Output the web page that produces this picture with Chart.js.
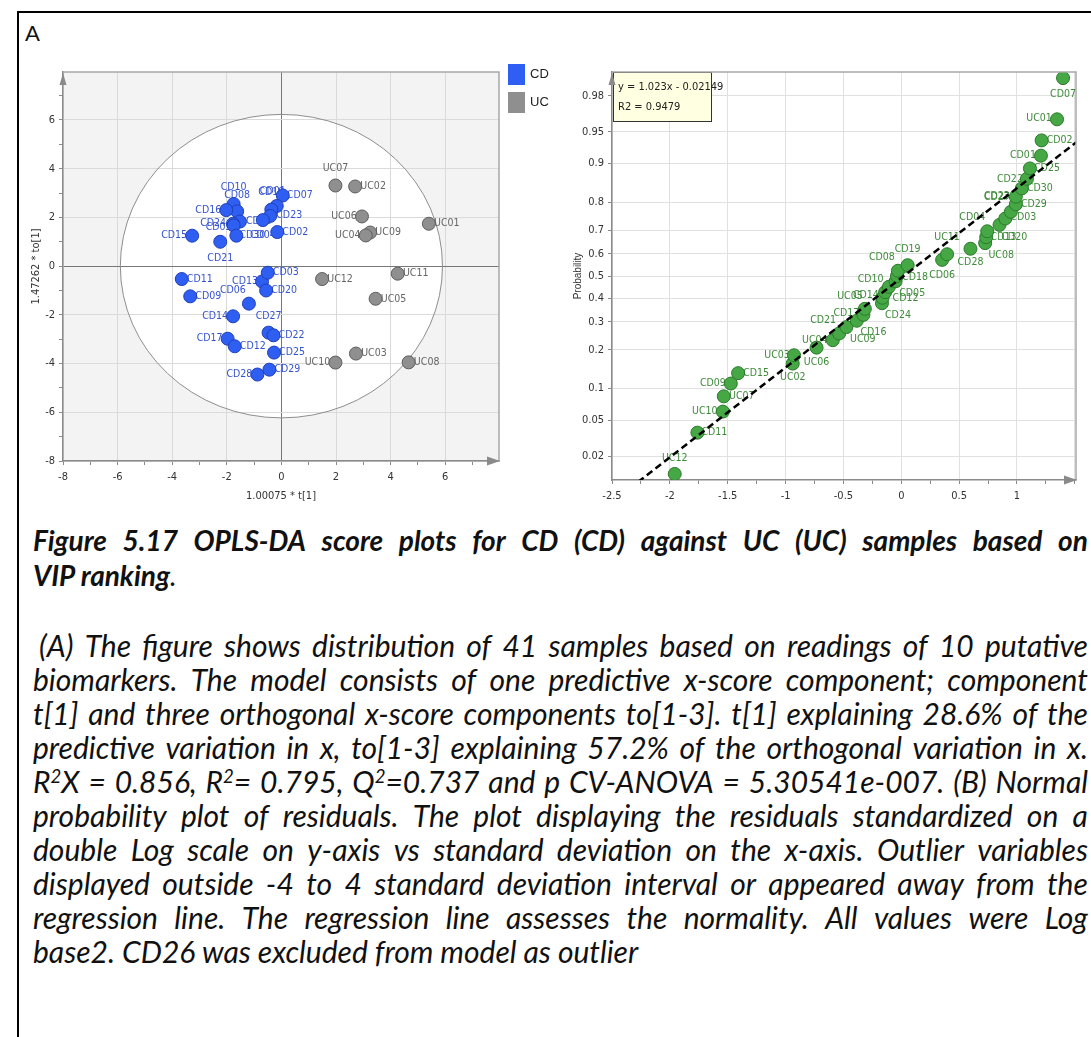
<!DOCTYPE html>
<html>
<head>
<meta charset="utf-8">
<script src="https://cdn.jsdelivr.net/npm/chart.js@4.4.1/dist/chart.umd.min.js"></script>
<style>
  html, body { margin: 0; padding: 0; background: #fff; }
  body { width: 1091px; height: 1037px; position: relative; overflow: hidden; font-family: Lato, 'Open Sans', sans-serif; color: #111; }
  #frame { position: absolute; left: 17px; top: 11px; width: 1100px; height: 1100px; border-top: 2px solid #000; border-left: 2px solid #000; }
  #panel { position: absolute; left: 25px; top: 19px; font-size: 22px; }
  .box { position: absolute; top: 60px; height: 450px; }
  #leftBox { left: 0; width: 560px; }
  #rightBox { left: 560px; width: 531px; }
  .sw { position: absolute; left: 508px; width: 17px; height: 21px; }
  .lg { position: absolute; left: 530px; font: 13px 'Liberation Sans', Arial, sans-serif; color: #222; }
  #caption { position: absolute; left: 33px; top: 523px; width: 1055px; font-size: 28px; font-weight: 700; font-style: italic; }
  #caption > div { height: 35px; line-height: 35px; white-space: nowrap; }
  #notes { position: absolute; left: 33px; top: 628px; width: 1055px; font-size: 30px; font-style: italic; }
  #notes > div { height: 34px; line-height: 34px; white-space: nowrap; }
  .j { display: flex; justify-content: space-between; }
  sup { font-size: 0.62em; line-height: 0; vertical-align: 0.55em; }
</style>
</head>
<body>
<div id="frame"></div>
<div id="panel">A</div>

<div id="leftBox" class="box"><canvas id="scoreChart" width="560" height="450"></canvas></div>
<div id="rightBox" class="box"><canvas id="probChart" width="531" height="450"></canvas></div>

<div class="sw" style="top:64px;background:#2f5ff2"></div>
<div class="lg" style="top:66px">CD</div>
<div class="sw" style="top:92px;background:#8f8f8f"></div>
<div class="lg" style="top:94px">UC</div>

<div id="caption">
  <div class="j">Figure 5.17 OPLS-DA score plots for CD (CD) against UC (UC) samples based on</div>
  <div>VIP ranking<span style="font-weight:400">.</span></div>
</div>

<div id="notes">
  <div class="j" style="padding-left:6px">(A) The figure shows distribution of 41 samples based on readings of 10 putative</div>
  <div class="j">biomarkers. The model consists of one predictive x-score component; component</div>
  <div class="j">t[1] and three orthogonal x-score components to[1-3]. t[1] explaining 28.6% of the</div>
  <div class="j">predictive variation in x, to[1-3] explaining 57.2% of the orthogonal variation in x.</div>
  <div class="j">R<sup>2</sup>X = 0.856, R<sup>2</sup>= 0.795, Q<sup>2</sup>=0.737 and p CV-ANOVA = 5.30541e-007. (B) Normal</div>
  <div class="j">probability plot of residuals. The plot displaying the residuals standardized on a</div>
  <div class="j">double Log scale on y-axis vs standard deviation on the x-axis. Outlier variables</div>
  <div class="j">displayed outside -4 to 4 standard deviation interval or appeared away from the</div>
  <div class="j">regression line. The regression line assesses the normality. All values were Log</div>
  <div>base2. CD26 was excluded from model as outlier</div>
</div>

<script>
// ---- score plot (A) data ----
const cdNames = ['CD10','CD08','CD16','CD18','CD24','CD05','CD30','CD15','CD21','CD07','CD01','CD19','CD23','CD04','CD02',
                 'CD11','CD09','CD06','CD13','CD03','CD20','CD14','CD27','CD22','CD17','CD12','CD25','CD29','CD28'];
const cdX = [-1.75,-1.62,-2.02,-1.52,-1.77,-1.75,-1.65,-3.27,-2.24,0.05,-0.17,-0.37,-0.41,-0.68,-0.15,
             -3.65,-3.34,-1.19,-0.71,-0.50,-0.56,-1.77,-0.47,-0.29,-1.97,-1.71,-0.27,-0.44,-0.88];
const cdY = [2.55,2.25,2.30,1.83,1.74,1.67,1.25,1.25,1.00,2.90,2.47,2.32,2.06,1.89,1.40,
             -0.53,-1.24,-1.54,-0.63,-0.27,-1.00,-2.06,-2.73,-2.84,-2.98,-3.29,-3.55,-4.25,-4.45];

const ucNames = ['UC07','UC02','UC06','UC01','UC09','UC04','UC12','UC11','UC05','UC03','UC10','UC08'];
const ucX = [1.98,2.70,2.95,5.40,3.25,3.09,1.49,4.26,3.45,2.73,1.98,4.66];
const ucY = [3.31,3.27,2.04,1.74,1.38,1.26,-0.53,-0.31,-1.34,-3.59,-3.96,-3.95];

// Hotelling T2 ellipse semi-axes (score units)
const ellipseA = 5.9;
const ellipseB = 6.23;

// ---- normal probability plot (B) data, sorted by probability ----
const resNames = ['UC12','CD11','UC10','UC07','CD09','CD15','UC02','UC03','UC06','UC04','CD21','CD17','UC09','CD16',
                  'CD14','CD24','CD12','CD05','UC05','CD10','CD18','CD08','CD19','CD06','UC11','CD28','UC08','CD20',
                  'CD04','CD13','CD03','CD27','CD29','CD23','CD30','CD22','CD25','CD01','CD02','UC01','CD07'];
const resX = [-1.958,-1.762,-1.542,-1.534,-1.473,-1.410,-0.938,-0.927,-0.732,-0.592,-0.537,-0.474,-0.384,-0.327,
              -0.315,-0.167,-0.162,-0.139,-0.107,-0.049,-0.037,-0.029,0.055,0.353,0.396,0.598,0.725,0.734,
              0.743,0.849,0.899,0.947,0.990,0.990,1.042,1.086,1.112,1.207,1.213,1.346,1.398];
const resProb = [0.012,0.037,0.061,0.085,0.110,0.134,0.159,0.183,0.207,0.232,0.256,0.280,0.305,0.329,
                 0.354,0.378,0.402,0.427,0.451,0.476,0.500,0.524,0.549,0.573,0.598,0.622,0.646,0.671,
                 0.695,0.720,0.744,0.768,0.793,0.817,0.841,0.866,0.890,0.915,0.939,0.963,0.988];
const probTicks = [0.02,0.05,0.1,0.2,0.3,0.4,0.5,0.6,0.7,0.8,0.9,0.95,0.98];
const probTickLabels = ['0.02','0.05','0.1','0.2','0.3','0.4','0.5','0.6','0.7','0.8','0.9','0.95','0.98'];
const fitSlope = 1.023;
const fitIntercept = -0.02149;
const fitR2 = 0.9479;

// label offsets (px) from each point
const cdLabelPos = [[0,-17],[0,-16],[-18,0],[19,0],[-20,0],[-15,2],[16,0],[-18,0],[0,16],[17,0],[-4,-15],[0,-17],[19,-1],[0,15],[18,0],
                    [18,0],[18,0],[-16,-13],[-17,0],[18,0],[18,0],[-18,0],[0,-16],[18,0],[-18,0],[18,0],[18,0],[18,0],[-18,0]];
const ucLabelPos = [[0,-17],[18,0],[-18,0],[18,0],[18,0],[-18,0],[18,0],[18,0],[18,0],[18,0],[-18,0],[18,0]];
const resLabelPos = [[0,-16],[17,0],[-18,0],[18,0],[-18,0],[18,0],[0,14],[-17,0],[0,15],[-18,0],[-16,-13],[0,-14],[6,19],[10,17],
                     [1,-14],[16,12],[23,1],[27,1],[-39,9],[-25,-2],[18,1],[-16,-13],[0,-16],[0,15],[0,-17],[0,14],[16,12],[28,0],
                     [-15,-14],[4,12],[18,-1],[-14,-15],[18,0],[-19,0],[18,0],[-17,0],[17,0],[-18,0],[18,0],[-18,-1],[0,16]];

const narrow = "'Liberation Sans Narrow', 'DejaVu Sans Condensed', 'Arial Narrow', sans-serif";

// inverse normal CDF, used as the probability axis transform
function probit(p) {
    const a = [-3.969683028665376e+01, 2.209460984245205e+02, -2.759285104469687e+02, 1.383577518672690e+02, -3.066479806614716e+01, 2.506628277459239e+00];
    const b = [-5.447609879822406e+01, 1.615858368580409e+02, -1.556989798598866e+02, 6.680131188771972e+01, -1.328068155288572e+01];
    const c = [-7.784894002430293e-03, -3.223964580411365e-01, -2.400758277161838e+00, -2.549732539343734e+00, 4.374664141464968e+00, 2.938163982698783e+00];
    const d = [7.784695709041462e-03, 3.224671290700398e-01, 2.445134137142996e+00, 3.754408661907416e+00];
    const pl = 0.02425;
    let q, r;
    if (p < pl) {
        q = Math.sqrt(-2 * Math.log(p));
        return (((((c[0]*q+c[1])*q+c[2])*q+c[3])*q+c[4])*q+c[5]) / ((((d[0]*q+d[1])*q+d[2])*q+d[3])*q+1);
    }
    if (p <= 1 - pl) {
        q = p - 0.5; r = q * q;
        return (((((a[0]*r+a[1])*r+a[2])*r+a[3])*r+a[4])*r+a[5])*q / (((((b[0]*r+b[1])*r+b[2])*r+b[3])*r+b[4])*r+1);
    }
    q = Math.sqrt(-2 * Math.log(1 - p));
    return -(((((c[0]*q+c[1])*q+c[2])*q+c[3])*q+c[4])*q+c[5]) / ((((d[0]*q+d[1])*q+d[2])*q+d[3])*q+1);
}

// caption lines: one flex item per word so each line is justified without wrapping
document.querySelectorAll('.j').forEach(line => {
    line.innerHTML = line.innerHTML.trim().split(/\s+/).map(w => '<span>' + w + '</span>').join('');
});

// point labels, drawn under the markers
const pointLabels = {
    id: 'pointLabels',
    beforeDatasetsDraw(chart) {
        const ctx = chart.ctx;
        chart.data.datasets.forEach((ds, i) => {
            if (!ds.names) return;
            const meta = chart.getDatasetMeta(i);
            ctx.save();
            ctx.font = '10.5px ' + narrow;
            ctx.fillStyle = ds.labelColor;
            ctx.textAlign = 'center';
            ctx.textBaseline = 'middle';
            meta.data.forEach((pt, j) => {
                const off = ds.labelPos[j];
                ctx.fillText(ds.names[j], pt.x + off[0], pt.y + off[1]);
            });
            ctx.restore();
        });
    }
};

// plot frame: top/right border and axis arrows
function framePlugin(bg) {
    return {
        id: 'frame',
        beforeDraw(chart) {
            const {ctx, chartArea: a} = chart;
            ctx.save();
            ctx.fillStyle = bg;
            ctx.fillRect(a.left, a.top, a.right - a.left, a.bottom - a.top);
            ctx.restore();
        },
        afterDraw(chart) {
            const {ctx, chartArea: a} = chart;
            ctx.save();
            ctx.strokeStyle = '#a8a8a8';
            ctx.lineWidth = 1.5;
            ctx.beginPath();
            ctx.moveTo(a.left, a.top); ctx.lineTo(a.right, a.top); ctx.lineTo(a.right, a.bottom);
            ctx.stroke();
            ctx.fillStyle = '#8a8a8a';
            ctx.beginPath();
            ctx.moveTo(a.right + 1, a.bottom); ctx.lineTo(a.right - 12, a.bottom - 4.5); ctx.lineTo(a.right - 12, a.bottom + 4.5);
            ctx.closePath(); ctx.fill();
            ctx.beginPath();
            ctx.moveTo(a.left, a.top + 1); ctx.lineTo(a.left - 3.5, a.top + 13); ctx.lineTo(a.left + 3.5, a.top + 13);
            ctx.closePath(); ctx.fill();
            ctx.restore();
        }
    };
}

function ellipsePath(chart) {
    const {ctx, scales: {x, y}} = chart;
    ctx.beginPath();
    ctx.ellipse(x.getPixelForValue(0), y.getPixelForValue(0),
        x.getPixelForValue(ellipseA) - x.getPixelForValue(0), y.getPixelForValue(0) - y.getPixelForValue(ellipseB), 0, 0, Math.PI * 2);
}

const ellipsePlugin = {
    id: 't2ellipse',
    beforeDraw(chart) {
        chart.ctx.save();
        ellipsePath(chart);
        chart.ctx.fillStyle = '#fff';
        chart.ctx.fill();
        chart.ctx.restore();
    },
    beforeDatasetsDraw(chart) {
        chart.ctx.save();
        ellipsePath(chart);
        chart.ctx.strokeStyle = '#8e8e8e';
        chart.ctx.lineWidth = 1;
        chart.ctx.stroke();
        chart.ctx.restore();
    }
};

// equation box in the probability plot
const equationBox = {
    id: 'equationBox',
    afterDatasetsDraw(chart) {
        const {ctx, chartArea: a} = chart;
        ctx.save();
        ctx.fillStyle = '#ffffe1';
        ctx.fillRect(a.left + 1, a.top, 98, 49);
        ctx.strokeStyle = '#333';
        ctx.lineWidth = 1;
        ctx.strokeRect(a.left + 1.5, a.top + 0.5, 98, 49);
        ctx.fillStyle = '#222';
        ctx.font = '11px ' + narrow;
        ctx.textBaseline = 'middle';
        ctx.fillText('y = ' + fitSlope + 'x - ' + Math.abs(fitIntercept), a.left + 6, a.top + 15);
        ctx.fillText('R2 = ' + fitR2, a.left + 6, a.top + 35);
        ctx.restore();
    }
};

const tickFont = { family: narrow, size: 11 };
const isEven = v => Math.abs(v % 2) < 1e-9;
const isHalf = v => Math.abs(v * 2 - Math.round(v * 2)) < 1e-9;

// ---- score plot ----
new Chart(document.getElementById('scoreChart'), {
    type: 'scatter',
    data: {
        datasets: [{
            label: 'CD',
            data: cdX.map((x, i) => ({ x, y: cdY[i] })),
            names: cdNames, labelPos: cdLabelPos, labelColor: '#3553cf',
            backgroundColor: '#2f5ff2', borderColor: '#2040b8', borderWidth: 1, pointRadius: 6.5
        }, {
            label: 'UC',
            data: ucX.map((x, i) => ({ x, y: ucY[i] })),
            names: ucNames, labelPos: ucLabelPos, labelColor: '#666',
            backgroundColor: '#8f8f8f', borderColor: '#5e5e5e', borderWidth: 1, pointRadius: 6.5
        }]
    },
    options: {
        responsive: false, animation: false,
        layout: { padding: { left: 0, top: 12, right: 61, bottom: 0 } },
        plugins: { legend: { display: false }, tooltip: { enabled: false } },
        scales: {
            x: {
                min: -8, max: 7.97,
                ticks: { stepSize: 1, includeBounds: false, autoSkip: false, maxRotation: 0, padding: 6, font: tickFont, color: '#333',
                         callback: v => isEven(v) ? v : '' },
                grid: { color: c => c.tick.value === 0 ? '#777' : (isEven(c.tick.value) ? '#dadada' : 'rgba(0,0,0,0)'),
                        tickColor: '#8a8a8a', tickLength: 4 },
                border: { color: '#8a8a8a', width: 1.5 },
                title: { display: true, text: '1.00075 * t[1]', font: tickFont, color: '#333', padding: { top: 0, bottom: 7 } },
                afterFit: s => { s.height = 49; }
            },
            y: {
                min: -8, max: 7.97,
                ticks: { stepSize: 1, includeBounds: false, autoSkip: false, padding: 4, font: tickFont, color: '#333',
                         callback: v => isEven(v) ? v : '' },
                grid: { color: c => c.tick.value === 0 ? '#777' : (isEven(c.tick.value) ? '#dadada' : 'rgba(0,0,0,0)'),
                        tickColor: '#8a8a8a', tickLength: 4 },
                border: { color: '#8a8a8a', width: 1.5 },
                title: { display: true, text: '1.47262 * to[1]', font: tickFont, color: '#333', padding: { top: 30, bottom: 4 } },
                afterFit: s => { s.width = 63; }
            }
        }
    },
    plugins: [framePlugin('#f3f3f3'), ellipsePlugin, pointLabels]
});

// ---- normal probability plot ----
new Chart(document.getElementById('probChart'), {
    type: 'scatter',
    data: {
        datasets: [{
            label: 'fit',
            type: 'line',
            data: [-2.5, 1.51].map(x => ({ x, y: fitSlope * x + fitIntercept })),
            borderColor: '#000', borderWidth: 2.5, borderDash: [7, 4], pointRadius: 0, fill: false, order: 0
        }, {
            label: 'residuals',
            data: resX.map((x, i) => ({ x, y: probit(resProb[i]) })),
            names: resNames, labelPos: resLabelPos, labelColor: '#3f8a3a',
            backgroundColor: '#45a845', borderColor: '#2c7a2c', borderWidth: 1, pointRadius: 6.5, order: 1
        }]
    },
    options: {
        responsive: false, animation: false,
        layout: { padding: { left: 8, top: 12, right: 15, bottom: 0 } },
        plugins: { legend: { display: false }, tooltip: { enabled: false } },
        scales: {
            x: {
                type: 'linear', min: -2.5, max: 1.51,
                ticks: { stepSize: 0.25, includeBounds: false, autoSkip: false, maxRotation: 0, padding: 6, font: tickFont, color: '#333',
                         callback: v => (isHalf(v) && v < 1.3) ? v : '' },
                grid: { color: c => isHalf(c.tick.value) ? '#e0e0e0' : 'rgba(0,0,0,0)',
                        tickColor: '#8a8a8a', tickLength: 4 },
                border: { color: '#8a8a8a', width: 1.5 },
                afterFit: s => { s.height = 30; }
            },
            y: {
                type: 'linear', min: probit(0.01), max: probit(0.99),
                afterBuildTicks: s => { s.ticks = probTicks.map(p => ({ value: probit(p) })); },
                ticks: { autoSkip: false, padding: 4, font: tickFont, color: '#333', callback: (v, i) => probTickLabels[i] },
                grid: { color: '#e0e0e0', tickColor: '#8a8a8a', tickLength: 4 },
                border: { color: '#8a8a8a', width: 1.5 },
                title: { display: true, text: 'Probability', font: { family: "'Liberation Sans', Arial, sans-serif", size: 10 }, color: '#333',
                         padding: { top: 4, bottom: 4 } },
                afterFit: s => { s.width = 44; }
            }
        }
    },
    plugins: [framePlugin('#fff'), pointLabels, equationBox]
});
</script>
</body>
</html>
